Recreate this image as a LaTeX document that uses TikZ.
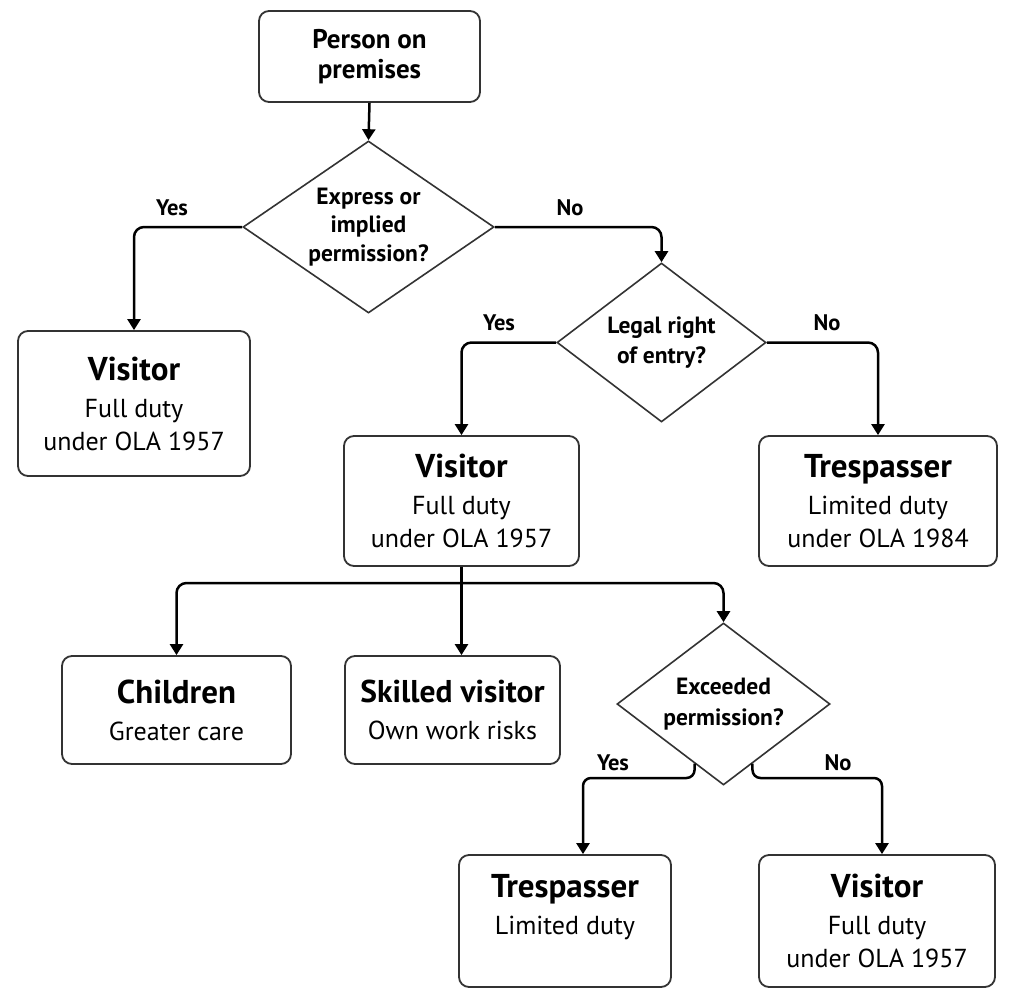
\documentclass[tikz,border=0pt]{standalone}
\usepackage{fontspec}
\setmainfont{PT Sans}
\usetikzlibrary{shapes.geometric,arrows.meta,calc}
\definecolor{edgegray}{HTML}{333333}
\newcommand{\ttlfont}{\fontsize{33}{37}\selectfont\bfseries}
\begin{document}
\begin{tikzpicture}[x=1pt,y=-1pt,
  box/.style={draw=edgegray, line width=1.8pt, rounded corners=10pt, fill=white, align=center, inner sep=0pt, font=\fontsize{26}{33}\selectfont},
  dia/.style={draw=edgegray, line width=1.6pt, diamond, inner sep=-6pt, align=center, fill=white, font=\fontsize{23.5}{28.5}\selectfont\bfseries},
  conn/.style={line width=2.5pt, rounded corners=10pt, -{Triangle[length=11pt,width=13pt]}},
  trunk/.style={line width=2.5pt},
  lab/.style={font=\fontsize{22.5}{26}\selectfont\bfseries, inner sep=0pt}
]
\fill[white] (0,0) rectangle (1015,1007);
\useasboundingbox (0,0) rectangle (1015,1007);

% nodes
\node[box, minimum width=221, minimum height=91, font=\fontsize{27}{30}\selectfont\bfseries] (a) at (369.5,56.5) {Person on\\premises};
\node[dia, minimum width=251, minimum height=172, aspect=1.46] (d1) at (368.5,227) {Express or\\implied\\permission?};
\node[box, minimum width=232, minimum height=145] (b) at (134,403.5) {{\ttlfont Visitor}\\[4pt]Full duty\\under OLA 1957};
\node[dia, minimum width=209, minimum height=159, aspect=1.31, font=\fontsize{23.5}{30}\selectfont\bfseries] (d2) at (661.5,342.5) {Legal right\\of entry?};
\node[box, minimum width=235, minimum height=130] (c) at (461.5,501) {{\ttlfont Visitor}\\[4pt]Full duty\\under OLA 1957};
\node[box, minimum width=238, minimum height=130] (e) at (878,501) {{\ttlfont Trespasser}\\[4pt]Limited duty\\under OLA 1984};
\node[box, minimum width=229, minimum height=108] (f) at (176.5,710) {{\ttlfont Children}\\[4pt]Greater care};
\node[box, minimum width=215, minimum height=108] (g) at (452.5,710) {{\fontsize{31.5}{37}\selectfont\bfseries Skilled visitor}\\[4pt]Own work risks};
\node[dia, minimum width=213, minimum height=162, aspect=1.31, font=\fontsize{23.5}{31}\selectfont\bfseries] (d3) at (723.5,704) {Exceeded\\permission?};
\node[box, minimum width=212, minimum height=132] (h) at (565,921) {{\ttlfont Trespasser}\\[4pt]Limited duty\\\phantom{under OLA 1957}};
\node[box, minimum width=236, minimum height=132] (i) at (877,921) {{\ttlfont Visitor}\\[4pt]Full duty\\under OLA 1957};

% labels
\node[lab] (l1) at (172,208) {Yes};
\node[lab] (l2) at (570,208) {No};
\node[lab] (l3) at (499,323) {Yes};
\node[lab] (l4) at (827,323) {No};
\node[lab] (l5) at (613,763) {Yes};
\node[lab] (l6) at (838,763) {No};

% connectors
\draw[conn] (a.south) -- (d1.north);
\draw[conn] (d1.west) -| (b.north);
\draw[conn] (d1.east) -| (d2.north);
\draw[conn] (d2.west) -| (c.north);
\draw[conn] (d2.east) -| (e.north);
\coordinate (j) at (461.5,583);
\draw[trunk] (c.south) -- (j);
\draw[conn] (j) -| (f.north);
\draw[conn] (j) -- (j |- g.north);
\draw[conn] (j) -| (d3.north);
\coordinate (y3) at ($(d3.west)!0.73!(d3.south)$);
\coordinate (n3) at ($(d3.east)!0.73!(d3.south)$);
\draw[conn, rounded corners=8pt] (y3) -- (y3 |- 0,778) -| ($(h.north)+(18,0)$);
\draw[conn, rounded corners=8pt] (n3) -- (n3 |- 0,778) -| ($(i.north)+(5,0)$);
\end{tikzpicture}
\end{document}
